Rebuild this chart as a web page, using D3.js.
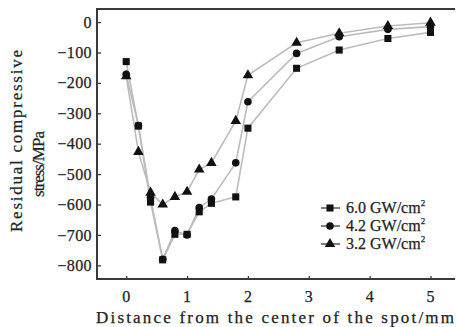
<!DOCTYPE html>
<html>
<head>
<meta charset="utf-8">
<script src="https://cdn.jsdelivr.net/npm/d3@7"></script>
<style>
  html, body { margin: 0; padding: 0; background: #fff; }
  svg { display: block; font-family: "Liberation Serif", "Times New Roman", serif; }
  text { stroke: #222; stroke-width: 0.25px; }
</style>
</head>
<body>
<div id="chart"></div>
<script>
// distances from spot center (mm)
const distances = [0, 0.2, 0.4, 0.6, 0.8, 1.0, 1.2, 1.4, 1.8, 2.0, 2.8, 3.5, 4.3, 5.0];

// residual compressive stress (MPa)
const stress60 = [-130, -342, -592, -782, -698, -698, -624, -596, -575, -349, -152, -92, -54, -34];
const stress42 = [-172, -340, -578, -780, -686, -700, -610, -582, -463, -262, -103, -48, -24, -15];
const stress32 = [-178, -427, -561, -600, -575, -558, -485, -463, -325, -175, -68, -37, -13, -2];

const seriesNames = ["6.0 GW/cm", "4.2 GW/cm", "3.2 GW/cm"];
const xTicks = [0, 1, 2, 3, 4, 5];
const yTicks = [0, -100, -200, -300, -400, -500, -600, -700, -800];

const W = 457, H = 327;
const plot = { left: 97, right: 455, top: 9, bottom: 279 };

const series = [
  { name: seriesNames[0], values: stress60, shape: d3.symbolSquare, size: 50 },
  { name: seriesNames[1], values: stress42, shape: d3.symbolCircle, size: 46 },
  { name: seriesNames[2], values: stress32, shape: d3.symbolTriangle, size: 48 }
];

const svg = d3.select("#chart").append("svg")
  .attr("width", W)
  .attr("height", H);

const x = d3.scaleLinear().domain([-0.48, 5.37]).range([plot.left, 453]);
const y = d3.scaleLinear().domain([-845, 43]).range([plot.bottom, plot.top]);

// lines first, then markers on top
const line = d3.line()
  .x((d, i) => x(distances[i]))
  .y(d => y(d));

series.forEach(s => {
  svg.append("path")
    .datum(s.values)
    .attr("fill", "none")
    .attr("stroke", "#bcbcbc")
    .attr("stroke-width", 1.6)
    .attr("d", line);
});

// draw from last to first so squares sit on top
series.slice().reverse().forEach(s => {
  svg.append("g").selectAll("path")
    .data(s.values)
    .enter()
    .append("path")
    .attr("d", d3.symbol().type(s.shape).size(s.size))
    .attr("transform", (d, i) => `translate(${x(distances[i])},${y(d)})`)
    .attr("fill", "#111");
});

// frame
const frameColor = "#3a3a3a";
svg.append("path")
  .attr("d", `M${plot.right},${plot.top}H${plot.left}V${plot.bottom}H${plot.right}`)
  .attr("fill", "none")
  .attr("stroke", frameColor)
  .attr("stroke-width", 2);

// y axis (ticks pointing inward)
const yAxis = svg.append("g")
  .attr("transform", `translate(${plot.left},0)`)
  .call(d3.axisRight(y).tickValues(yTicks).tickSize(4).tickFormat(""));
yAxis.select(".domain").remove();
yAxis.selectAll("line").attr("stroke", frameColor).attr("stroke-width", 1.3);

svg.append("g").selectAll("text")
  .data(yTicks)
  .enter()
  .append("text")
  .attr("x", 92)
  .attr("y", d => y(d))
  .attr("dy", "0.35em")
  .attr("text-anchor", "end")
  .style("font-size", "16px")
  .style("letter-spacing", "0.4px")
  .attr("fill", "#222")
  .text(d => d === 0 ? "0" : "\u2212" + Math.abs(d));

// x axis (ticks pointing inward)
const xAxis = svg.append("g")
  .attr("transform", `translate(0,${plot.bottom})`)
  .call(d3.axisTop(x).tickValues(xTicks).tickSize(3).tickFormat(""));
xAxis.select(".domain").remove();
xAxis.selectAll("line").attr("stroke", frameColor).attr("stroke-width", 1.3);

svg.append("g").selectAll("text")
  .data(xTicks)
  .enter()
  .append("text")
  .attr("x", d => x(d))
  .attr("y", 302)
  .attr("text-anchor", "middle")
  .style("font-size", "16px")
  .attr("fill", "#222")
  .text(d => d);

// axis titles
svg.append("text")
  .attr("x", 96)
  .attr("y", 323)
  .attr("textLength", 358)
  .attr("lengthAdjust", "spacing")
  .style("font-size", "17px")
  .attr("fill", "#222")
  .text("Distance from the center of the spot/mm");

svg.append("text")
  .attr("transform", "translate(22,141) rotate(-90)")
  .attr("text-anchor", "middle")
  .attr("textLength", 182)
  .attr("lengthAdjust", "spacing")
  .style("font-size", "17px")
  .attr("fill", "#222")
  .text("Residual compressive");

svg.append("text")
  .attr("transform", "translate(44,164) rotate(-90)")
  .attr("text-anchor", "middle")
  .attr("textLength", 66)
  .attr("lengthAdjust", "spacing")
  .style("font-size", "17px")
  .attr("fill", "#222")
  .text("stress/MPa");

// legend
const legend = svg.append("g");
series.forEach((s, i) => {
  const ly = 208 + i * 18;
  legend.append("line")
    .attr("x1", 321).attr("x2", 340)
    .attr("y1", ly).attr("y2", ly)
    .attr("stroke", "#555")
    .attr("stroke-width", 1.5);
  legend.append("path")
    .attr("d", d3.symbol().type(s.shape).size(s.size))
    .attr("transform", `translate(330,${ly})`)
    .attr("fill", "#111");
  const t = legend.append("text")
    .attr("x", 346)
    .attr("y", ly + 5)
    .style("font-size", "16px")
    .attr("fill", "#222")
    .text(s.name);
  t.append("tspan")
    .attr("dy", -7)
    .style("font-size", "9px")
    .text("2");
});
</script>
</body>
</html>
